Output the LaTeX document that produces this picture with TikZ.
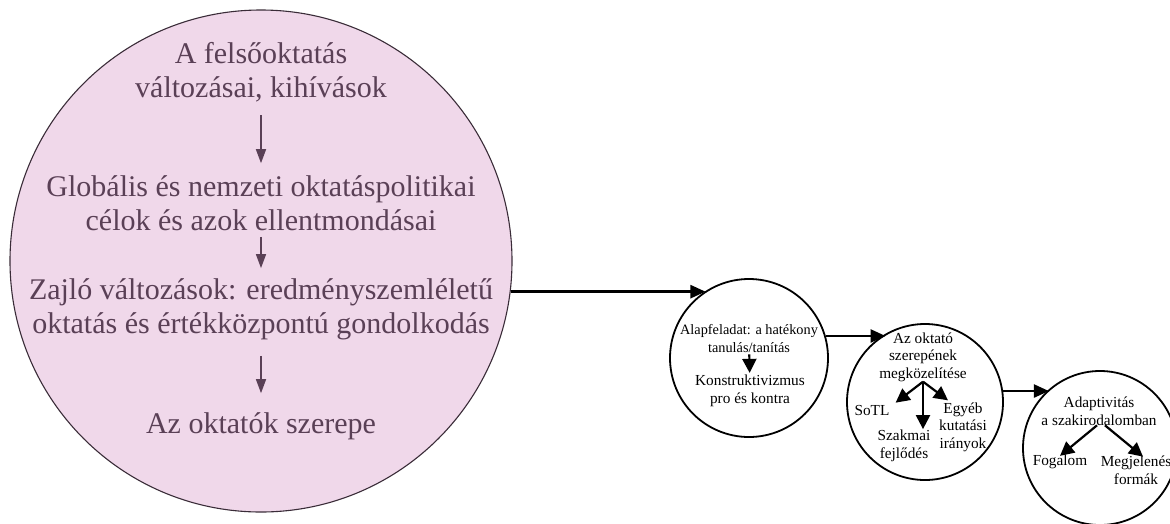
\documentclass[tikz,border=0pt]{standalone}
\usepackage{fontspec}
\setmainfont{Liberation Serif}
\usetikzlibrary{arrows.meta}
\definecolor{bubble}{HTML}{F0D8EA}
\definecolor{plum}{HTML}{5A4056}
\definecolor{rim}{HTML}{3A2C38}
\begin{document}
\begin{tikzpicture}[x=1pt,y=-1pt,
  bigcircle/.style={circle,draw=rim,line width=1.1pt,fill=bubble,minimum size=502pt,inner sep=0pt},
  smallcircle/.style={circle,draw=black,line width=1.8pt,fill=white,minimum size=#1,inner sep=0pt},
  bigtext/.style={text=plum,align=center,font=\fontsize{30}{34}\selectfont,inner sep=0pt},
  smalltext/.style={align=center,font=\fontsize{15.3}{17.5}\selectfont,inner sep=0pt},
  thinarrow/.style={draw=plum,line width=1.5pt,-{Triangle[length=14pt,width=10pt,fill=plum]}},
  link/.style={draw=black,line width=2.4pt,-{Triangle[length=15pt,width=13pt]}},
  fork/.style={draw=black,line width=2.2pt,-{Triangle[length=14pt,width=14pt]}},
]
\useasboundingbox (0,0) rectangle (1170,523);

% main circle with the chain of topics
\node[bigcircle] (big) at (261,261) {};
\node[bigtext] (t1) at (261,72) {A felsőoktatás\\változásai, kihívások};
\node[bigtext] (t2) at (261,203) {Globális és nemzeti oktatáspolitikai\\célok és azok ellentmondásai};
\node[bigtext] (t3) at (261,309) {Zajló változások: eredményszemléletű\\oktatás és értékközpontú gondolkodás};
\node[bigtext] (t4) at (261,426) {Az oktatók szerepe};
\draw[thinarrow,shorten <=13pt,shorten >=12pt] (t1) -- (t2);
\draw[thinarrow,shorten <=6pt,shorten >=10pt] (t2) -- (t3);
\draw[thinarrow,shorten <=16pt,shorten >=19pt] (t3) -- (t4);

% small circles
\node[smallcircle=158pt] (c2) at (749,358) {};
\node[smallcircle=156pt] (c3) at (925,402) {};
\node[smallcircle=154pt] (c4) at (1100,448) {};

% second circle
\node[smalltext,font=\fontsize{14.3}{18}\selectfont] (c2a) at (749,339) {Alapfeladat: a hatékony\\tanulás/tanítás};
\node[smalltext,font=\fontsize{15.3}{18}\selectfont] (c2b) at (750,391) {Konstruktivizmus\\pro és kontra};
\draw[fork,shorten <=1pt,shorten >=2pt] (c2a) -- (c2b);

% third circle
\node[smalltext] (c3a) at (923,357) {Az oktató\\szerepének\\megközelítése};
\node[smalltext] (sotl) at (872,411) {SoTL};
\node[smalltext] (egyeb) at (963,427) {Egyéb\\kutatási\\irányok};
\node[smalltext] (szak) at (904,446) {Szakmai\\fejlődés};
\draw[fork] (c3a.south) -- ([xshift=6pt,yshift=3pt]sotl.north east);
\draw[fork] (c3a.south) -- ([xshift=19pt,yshift=1pt]szak.north);
\draw[fork] (c3a.south) -- ([xshift=-15pt,yshift=2pt]egyeb.north);

% fourth circle
\node[smalltext] (c4a) at (1099,411) {Adaptivitás\\a szakirodalomban};
\node[smalltext] (fog) at (1060,462) {Fogalom};
\node[smalltext] (meg) at (1136,470) {Megjelenés\\formák};
\draw[fork] ([xshift=-2pt]c4a.south) -- ([yshift=-1pt]fog.north);
\draw[fork] ([xshift=6pt]c4a.south) -- ([xshift=7pt,yshift=-1pt]meg.north);

% horizontal connectors between the circles
\draw[link] (big.-7.1) -- (big.-7.1 -| c2.123.3);
\draw[link] (c2.16.9) -- (c2.16.9 -| c3.120.8);
\draw[link] (c3.8.85) -- (c3.8.85 -| c4.131.1);
\end{tikzpicture}
\end{document}
